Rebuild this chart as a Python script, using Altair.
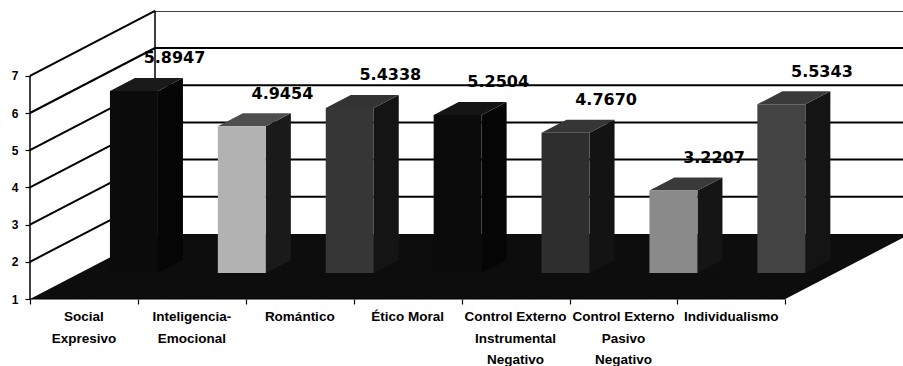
import altair as alt
import pandas as pd

# ---------------- data ----------------
categories = [
    "Social\nExpresivo",
    "Inteligencia-\nEmocional",
    "Romántico",
    "Ético Moral",
    "Control Externo\nInstrumental\nNegativo",
    "Control Externo\nPasivo\nNegativo",
    "Individualismo",
]
values = [5.8947, 4.9454, 5.4338, 5.2504, 4.7670, 3.2207, 5.5343]
y_ticks = [1, 2, 3, 4, 5, 6, 7]

# ---------------- styles ----------------
front_colors = ["#0b0b0b", "#b2b2b2", "#363636", "#0b0b0b", "#2e2e2e", "#8a8a8a", "#434343"]
top_colors = ["#1a1a1a", "#4e4e4e", "#333333", "#141414", "#363636", "#3a3a3a", "#3a3a3a"]
side_colors = ["#050505", "#1a1a1a", "#141414", "#050505", "#131313", "#151515", "#141414"]

# ---------------- geometry (in data units) ----------------
PX_CAT, PX_VAL = 107.9, 37.2
W_PX, H_PX = 873, 288
XMAX = W_PX / PX_CAT
YMIN, YMAX = 1, 1 + H_PX / PX_VAL
DX = 125 / PX_CAT        # depth shift along x
DY = 65 / PX_VAL         # depth shift along y
BW = 48 / PX_CAT         # bar width
F0, F1 = 0.4, 0.6        # bar depth position
N = len(categories)

xs = alt.Scale(domain=[0, XMAX], nice=False, zero=False)
ys = alt.Scale(domain=[YMIN, YMAX], nice=False, zero=False)
x_axis = alt.Axis(values=list(range(N + 1)), labels=False, tickSize=5, tickColor="black",
                  tickWidth=1.2, domain=False, grid=False, title=None)
y_axis = alt.Axis(values=y_ticks, format="d", tickSize=5, tickColor="black", tickWidth=1.2,
                  domain=False, grid=False, title=None, labelFont="Liberation Sans",
                  labelFontWeight="bold", labelFontSize=12, labelColor="black", labelPadding=7)


def X(f):
    return alt.X(f, scale=xs, axis=x_axis, title=None)


def Y(f):
    return alt.Y(f, scale=ys, axis=y_axis, title=None, stack=None)


# walls
back_grid = pd.DataFrame({"x": DX, "x2": DX + 9, "y": [t + DY for t in y_ticks[1:]]})
side_grid = pd.DataFrame({"x": 0, "x2": DX, "y": y_ticks[1:], "y2": [t + DY for t in y_ticks[1:]]})
edges = pd.DataFrame({"x": [DX, 0], "x2": [DX, 0], "y": [1 + DY, 1], "y2": [7 + DY, 7]})
floor = pd.DataFrame({
    "x": [0, DX, N, N + DX],
    "y": [1, 1, 1, 1 + DY],
    "y2": [1, 1 + DY, 1 + DY, 1 + DY],
})
front_edge = pd.DataFrame({"x": [0], "x2": [N], "y": [1]})

# bars
fronts, polys, labels = [], [], []
ddx, ddy = (F1 - F0) * DX, (F1 - F0) * DY
for i, v in enumerate(values):
    xl = i + 0.5 - BW / 2 + F0 * DX
    xr = xl + BW
    yb = 1 + F0 * DY
    yt = v + F0 * DY
    fronts.append({"x": xl, "x2": xr, "y": yb, "y2": yt, "c": front_colors[i]})
    for x, y, y2 in [(xr, yb, yt), (xr + ddx, yb + ddy, yt + ddy)]:
        polys.append({"id": f"s{i}", "x": x, "y": y, "y2": y2, "c": side_colors[i]})
    for x, y, y2 in [(xl, yt, yt), (xl + ddx, yt, yt + ddy), (xr, yt, yt + ddy), (xr + ddx, yt + ddy, yt + ddy)]:
        polys.append({"id": f"t{i}", "x": x, "y": y, "y2": y2, "c": top_colors[i]})
    labels.append({"x": i + 0.5 + 0.5 * DX + 0.26, "y": v + F1 * DY + 0.53, "t": f"{v:.4f}"})

fronts = pd.DataFrame(fronts)
polys = pd.DataFrame(polys)
labels = pd.DataFrame(labels)
cats = pd.DataFrame({"x": [i + 0.5 for i in range(N)], "y": 1, "t": categories})

LINE = 2

l_back = alt.Chart(back_grid).mark_rule(color="black", strokeWidth=LINE, clip=True).encode(
    x=X("x:Q"), x2="x2:Q", y=Y("y:Q"))
l_side = alt.Chart(side_grid).mark_rule(color="black", strokeWidth=LINE).encode(
    x=X("x:Q"), x2="x2:Q", y=Y("y:Q"), y2="y2:Q")
l_edges = alt.Chart(edges).mark_rule(color="black", strokeWidth=1.5).encode(
    x=X("x:Q"), x2="x2:Q", y=Y("y:Q"), y2="y2:Q")
l_floor = alt.Chart(floor).mark_area(color="#0d0d0d", clip=True, interpolate="linear").encode(
    x=X("x:Q"), y=Y("y:Q"), y2="y2:Q")
l_front_edge = alt.Chart(front_edge).mark_rule(color="black", strokeWidth=1.2).encode(
    x=X("x:Q"), x2="x2:Q", y=Y("y:Q"))
l_fronts = alt.Chart(fronts).mark_rect().encode(
    x=X("x:Q"), x2="x2:Q", y=Y("y:Q"), y2="y2:Q",
    color=alt.Color("c:N", scale=None))
l_polys = alt.Chart(polys).mark_area(interpolate="linear").encode(
    x=X("x:Q"), y=Y("y:Q"), y2="y2:Q",
    color=alt.Color("c:N", scale=None), detail="id:N")
l_labels = alt.Chart(labels).mark_text(font="DejaVu Sans", fontWeight="bold", fontSize=16,
                                        color="black", align="center", baseline="middle").encode(
    x=X("x:Q"), y=Y("y:Q"), text="t:N")
l_cats = alt.Chart(cats).mark_text(font="Liberation Sans", fontWeight="bold", fontSize=13.5,
                                    color="black", align="center", baseline="top",
                                    lineBreak="\n", lineHeight=21.5, dy=11).encode(
    x=X("x:Q"), y=Y("y:Q"), text="t:N")

chart = alt.layer(
    l_back, l_edges, l_side, l_floor, l_front_edge, l_polys, l_fronts, l_labels, l_cats
).properties(
    width=W_PX, height=H_PX,
    padding={"left": 30, "top": 11, "right": 0, "bottom": 67},
    autosize=alt.AutoSizeParams(type="none"),
    background="white",
).configure_view(stroke=None)

chart.save("out.html", embed_options={"renderer": "svg", "actions": False})
